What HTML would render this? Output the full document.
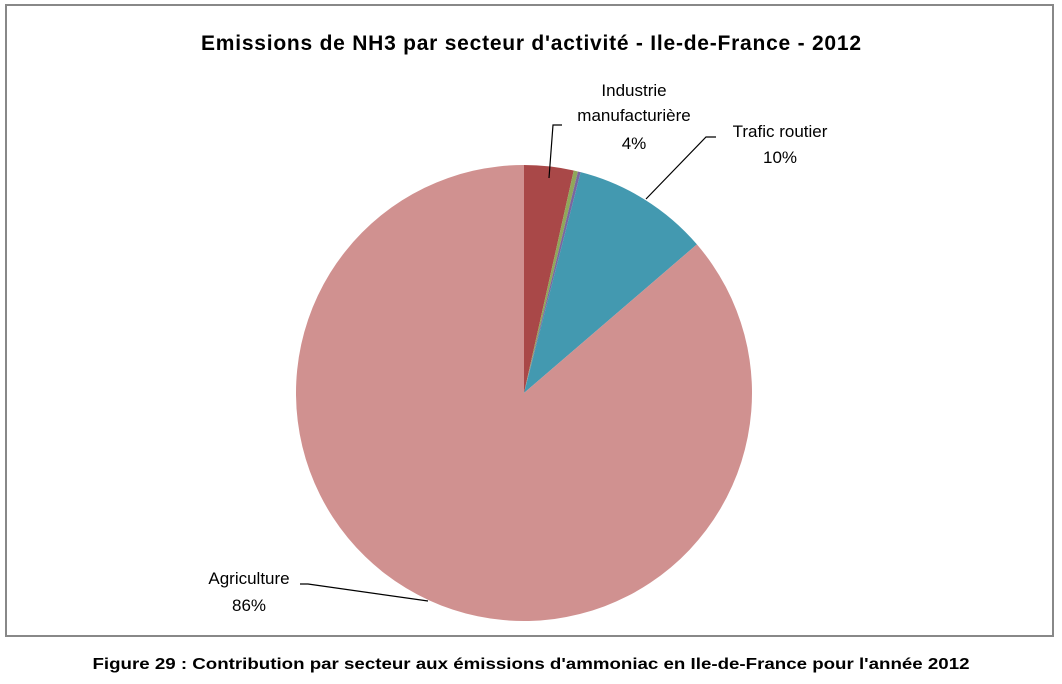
<!DOCTYPE html>
<html><head><meta charset="utf-8"><style>
html,body{margin:0;padding:0;background:#fff;}
svg{display:block;font-family:"Liberation Sans",sans-serif;}
</style></head><body>
<svg width="1062" height="684" viewBox="0 0 1062 684">
<rect x="6" y="5" width="1047" height="631" fill="#fff" stroke="#888" stroke-width="2"/>
<text x="531" y="50" text-anchor="middle" font-size="21" font-weight="bold" fill="#000" textLength="660">Emissions de NH3 par secteur d'activité - Ile-de-France - 2012</text>
<g id="slices"></g>
<g id="labels">
<polyline points="549,178 553,125 562,125" fill="none" stroke="#000" stroke-width="1.2"/>
<text x="634" y="96" text-anchor="middle" font-size="17">Industrie</text>
<text x="634" y="121" text-anchor="middle" font-size="17">manufacturière</text>
<text x="634" y="149" text-anchor="middle" font-size="17">4%</text>
<polyline points="646,199 706,137 716,137" fill="none" stroke="#000" stroke-width="1.2"/>
<text x="780" y="137" text-anchor="middle" font-size="17">Trafic routier</text>
<text x="780" y="163" text-anchor="middle" font-size="17">10%</text>
<polyline points="428,601 308,584 300,584" fill="none" stroke="#000" stroke-width="1.2"/>
<text x="249" y="584" text-anchor="middle" font-size="17">Agriculture</text>
<text x="249" y="611" text-anchor="middle" font-size="17">86%</text>
</g>
<text x="531" y="669" text-anchor="middle" font-size="16" font-weight="bold" fill="#000" textLength="877" lengthAdjust="spacingAndGlyphs">Figure 29 : Contribution par secteur aux émissions d'ammoniac en Ile-de-France pour l'année 2012</text>
</svg>
<script>
const categories = ["Industrie manufacturière","Autre 1","Autre 2","Trafic routier","Agriculture"];
const values = [3.5, 0.3, 0.2, 9.7, 86.3];
const colors = ["#a94848","#8fa75a","#7a66a0","#4399b0","#d09190"];
const cx = 524, cy = 393, r = 228;
const g = document.getElementById('slices');
const total = values.reduce((a,b)=>a+b,0);
let acc = 0;
function pt(f){const a=f*2*Math.PI;return [cx+r*Math.sin(a), cy-r*Math.cos(a)];}
values.forEach((v,i)=>{
  const f0 = acc/total; acc += v; const f1 = acc/total;
  const [x0,y0]=pt(f0),[x1,y1]=pt(f1);
  const large = (f1-f0)>0.5?1:0;
  const p = document.createElementNS('http://www.w3.org/2000/svg','path');
  p.setAttribute('d',`M${cx},${cy} L${x0},${y0} A${r},${r} 0 ${large} 1 ${x1},${y1} Z`);
  p.setAttribute('fill',colors[i]);
  
  
  g.appendChild(p);
});
</script>
</body></html>
